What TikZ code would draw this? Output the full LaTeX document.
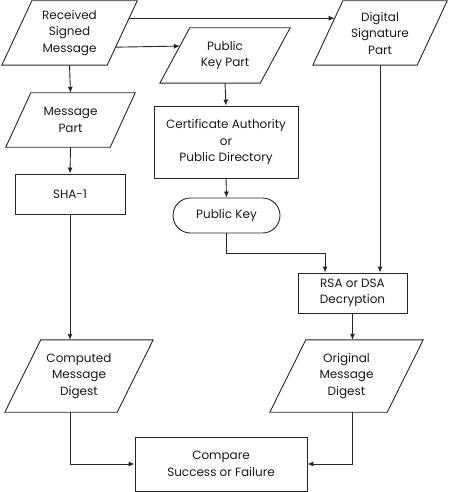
\documentclass[tikz,border=0pt]{standalone}
\usepackage{fontspec}
\setmainfont{Poppins}
\usetikzlibrary{shapes.misc,arrows.meta,calc}
\newcommand{\drawpara}[2]{%
  \draw[ln] ([xshift=#2pt]#1.north west) -- (#1.north east) -- ([xshift=-#2pt]#1.south east) -- (#1.south west) -- cycle;}
\begin{document}
\begin{tikzpicture}[x=1pt,y=-1pt,
  every node/.style={font=\fontsize{12}{16.5}\selectfont, align=center, inner sep=0pt, text=black!90},
  io/.style={rectangle},
  proc/.style={draw=black!85, line width=0.9pt, rectangle},
  term/.style={draw=black!85, line width=0.9pt, rounded rectangle},
  arr/.style={draw=black!85, line width=0.9pt, -{Latex[length=6pt,width=5pt]}},
  ln/.style={draw=black!85, line width=0.9pt, line join=miter}]
\useasboundingbox (0,0) rectangle (450,492);
\node[io, minimum width=135pt, minimum height=64pt] (rec) at (69.5,33) {Received\\Signed\\Message};
\node[io, minimum width=129pt, minimum height=54pt] (msg) at (70.5,120) {Message\\Part};
\node[proc, minimum width=110pt, minimum height=40pt] (sha) at (70,194) {SHA-1};
\node[io, minimum width=148pt, minimum height=72pt] (comp) at (79,376) {Computed\\Message\\Digest};
\node[io, minimum width=130pt, minimum height=55pt] (pkp) at (225,55.5) {Public\\Key Part};
\node[proc, minimum width=144pt, minimum height=72pt] (cert) at (226,142) {Certificate Authority\\or\\Public Directory};
\node[term, minimum width=107pt, minimum height=35pt] (pk) at (226.5,215.5) {Public Key};
\node[io, minimum width=134pt, minimum height=64pt] (dig) at (380,33) {Digital\\Signature\\Part};
\node[proc, minimum width=109pt, minimum height=40pt] (rsa) at (352.5,293) {RSA or DSA\\Decryption};
\node[io, minimum width=153pt, minimum height=72pt] (orig) at (346.5,376) {Original\\Message\\Digest};
\node[proc, minimum width=172pt, minimum height=54pt] (cmp) at (221,464) {Compare\\Success or Failure};
\drawpara{rec}{30}
\drawpara{msg}{25}
\drawpara{comp}{36}
\drawpara{pkp}{30}
\drawpara{dig}{30}
\drawpara{orig}{36}
\coordinate (j) at (0,253);
% connectors
\draw[arr] ($(rec.north east)!0.27!([xshift=-30pt]rec.south east)$) -- ($([xshift=30pt]dig.north west)!0.27!(dig.south west)$);
\draw[arr] ($(rec.north east)!0.72!([xshift=-30pt]rec.south east)$) -- ($([xshift=30pt]pkp.north west)!0.33!(pkp.south west)$);
\draw[arr] (rec.south) -- (msg.north);
\draw[arr] (msg.south) -- (sha.north);
\draw[arr] (sha.south) -- (sha.south |- comp.north);
\draw[arr] (sha.south |- comp.south) |- (cmp.west);
\draw[arr] (pkp.south) -- (cert.north);
\draw[arr] (cert.south) -- (pk.north);
\draw[arr] (pk.south) |- ([xshift=-27.5pt]rsa.north |- j) -- ([xshift=-27.5pt]rsa.north);
\draw[arr] (dig.south) -- (dig.south |- rsa.north);
\draw[arr] (rsa.south) -- (rsa.south |- orig.north);
\draw[arr] (rsa.south |- orig.south) |- (cmp.east);
\end{tikzpicture}
\end{document}
